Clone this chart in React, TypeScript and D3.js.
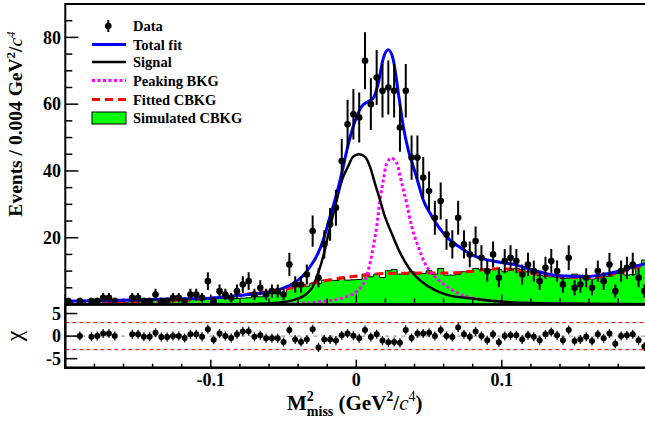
import { useMemo } from "react";
import * as d3 from "d3";

// ---- data ----
const binLo = -0.2;
const binWidth = 0.004;

// events per 0.004 bin, 100 bins from -0.2 to 0.2
const counts = [
  1, 0, 1, 0, 1, 1, 2, 2, 1, 0,
  0, 2, 2, 1, 1, 3, 1, 1, 2, 2,
  1, 3, 3, 2, 7, 1, 4, 3, 2, 4,
  6, 7, 3, 5, 3, 4, 4, 3, 12, 6,
  6, 9, 22, 8, 18, 24, 29, 43, 54, 57,
  56, 73, 60, 68, 64, 65, 64, 53, 64, 44,
  44, 38, 34, 26, 31, 21, 18, 26, 18, 15,
  19, 14, 10, 15, 8, 13, 14, 13, 9, 12,
  10, 7, 11, 13, 10, 6, 14, 5, 6, 8,
  5, 10, 7, 12, 4, 10, 11, 12, 8, 4,
];

// pulls (chi) per bin, null = not drawn
const pulls: (number | null)[] = [
  null, null, 0.0, null, -0.15, 0.0, 0.6, 0.6, 0.0, null,
  null, 0.4, 0.4, -0.15, -0.15, 0.75, -0.2, -0.2, 0.0, 0.0,
  -0.4, 0.4, 0.4, -0.15, 1.5, -0.8, 0.6, 0.0, -0.4, 0.4,
  1.0, 1.1, -0.15, 0.2, -0.5, -0.5, -0.5, -1.3, 1.35, -0.75,
  -1.3, -0.75, 1.5, -2.5, -0.75, -0.75, -1.0, 0.2, 0.6, 0.1,
  -0.5, 1.35, -0.2, 0.4, -1.0, -1.35, -1.3, -1.5, 1.35, -0.4,
  0.6, 0.6, 0.75, 0.0, 1.35, 0.0, -0.2, 1.9, 0.4, -0.15,
  1.0, 0.0, -0.9, 0.4, -1.35, 0.0, 0.2, 0.2, -0.75, 0.2,
  -0.15, -0.9, 0.4, 0.9, 0.2, -0.9, 1.35, -1.1, -0.75, -0.15,
  -1.1, 0.4, -0.5, 0.6, -1.7, 0.0, 0.2, 0.4, -0.9, -2.3,
];

// simulated combinatorial background histogram
const simCbkg = [
  0.3, 0.2, 0.4, 0.3, 0.4, 0.5, 0.4, 0.6, 0.8, 0.6,
  0.7, 0.9, 0.8, 0.7, 1.0, 1.2, 1.0, 1.1, 1.3, 1.2,
  1.6, 1.8, 1.5, 1.9, 2.0, 1.7, 1.8, 1.8, 1.9, 1.8,
  1.9, 2.0, 2.8, 2.3, 3.3, 3.5, 3.2, 3.6, 5.3, 5.5,
  5.6, 5.5, 6.3, 6.3, 7.3, 7.3, 7.2, 8.2, 7.3, 7.4,
  7.5, 9.1, 8.3, 9.1, 8.1, 10.1, 10.5, 9.1, 9.1, 9.8,
  9.1, 9.3, 10.1, 9.1, 10.8, 8.8, 8.8, 9.1, 9.8, 10.1,
  10.8, 10.5, 10.1, 10.5, 10.5, 9.8, 10.2, 10.8, 10.5, 9.8,
  9.2, 8.8, 8.5, 8.3, 8.2, 7.8, 7.9, 9.1, 8.8, 7.8,
  7.6, 7.9, 8.3, 8.5, 9.3, 9.4, 8.8, 9.0, 11.8, 13.3,
];

// fit curves
const totX = [-0.2, -0.162, -0.135, -0.1006, -0.089, -0.078, -0.0662, -0.0545, -0.0435, -0.0373, -0.0318, -0.0263, -0.022, -0.0181, -0.014, -0.01, -0.0059, -0.0021, 0.0037, 0.0082, 0.0117, 0.0151, 0.0186, 0.022, 0.0254, 0.0289, 0.0323, 0.0357, 0.0392, 0.0426, 0.046, 0.0507, 0.0564, 0.0632, 0.0724, 0.0816, 0.0907, 0.101, 0.11, 0.1216, 0.1331, 0.1446, 0.156, 0.1675, 0.179, 0.1904, 0.2];
const totY = [1.0, 1.3, 1.6, 1.9, 2.3, 2.8, 3.3, 4.3, 6.3, 8.3, 11.3, 15.3, 20.3, 26.3, 32.3, 39.3, 47.3, 53.3, 59.3, 60.8, 61.8, 66.3, 73.8, 76.3, 73.3, 63.3, 53.3, 46.3, 41.3, 36.3, 31.3, 27.3, 23.3, 19.8, 16.8, 14.5, 13.3, 12.5, 11.8, 10.3, 9.0, 8.5, 8.3, 8.8, 9.8, 11.3, 12.4];

const sigX = [-0.2, -0.08, -0.066, -0.0545, -0.0435, -0.034, -0.03, -0.0263, -0.0222, -0.018, -0.014, -0.0098, -0.0057, -0.0023, 0.0018, 0.006, 0.0094, 0.0128, 0.0163, 0.0197, 0.0243, 0.0287, 0.0335, 0.039, 0.045, 0.054, 0.063, 0.0795, 0.1, 0.133, 0.2];
const sigY = [0.0, 0.05, 0.2, 0.5, 1.3, 3.3, 5.3, 9.3, 15.3, 23.3, 30.3, 37.3, 41.3, 44.2, 45.0, 44.2, 41.3, 36.3, 31.3, 26.3, 21.3, 16.8, 12.8, 9.3, 6.8, 4.3, 2.8, 1.8, 0.8, 0.3, 0.1];

const pkX = [-0.2, -0.06, -0.041, -0.025, -0.0091, 0.0005, 0.006, 0.0094, 0.0117, 0.014, 0.0163, 0.0186, 0.0209, 0.0243, 0.0278, 0.0312, 0.0346, 0.0381, 0.0426, 0.0472, 0.0541, 0.061, 0.07, 0.0816, 0.1, 0.126, 0.168, 0.2];
const pkY = [0.0, 0.1, 0.3, 0.8, 2.0, 4.0, 7.3, 12.3, 17.3, 23.3, 31.3, 37.3, 42.3, 43.8, 42.3, 36.3, 30.3, 23.3, 17.3, 12.3, 8.3, 5.8, 3.3, 1.8, 0.8, 0.3, 0.1, 0.05];

const bkX = [-0.2, -0.162, -0.135, -0.107, -0.085, -0.073, -0.059, -0.0435, -0.023, -0.002, 0.022, 0.045, 0.068, 0.09, 0.099, 0.121, 0.145, 0.156, 0.167, 0.179, 0.19, 0.2];
const bkY = [0.5, 0.8, 1.0, 1.6, 2.6, 3.3, 4.0, 5.0, 7.0, 8.4, 9.3, 9.4, 9.5, 10.5, 10.8, 9.3, 8.3, 8.0, 8.4, 9.3, 10.8, 12.0];

const yTickLabels = [20, 40, 60, 80];
const xTickLabels = [-0.1, 0, 0.1];
const chiTickLabels = [-5, 0, 5];
const chiBand = [-3, 3];

const legendItems = ["Data", "Total fit", "Signal", "Peaking BKG", "Fitted CBKG", "Simulated CBKG"];
const legendRowY = [26, 44.5, 62, 80.5, 99.5, 118];

const FONT = "'Liberation Serif', 'Times New Roman', serif";

export default function App() {
  const W = 645;
  const H = 421;
  const L = 65.3, R = 647.3, T = 4, MID = 304.5, B = 367.7;

  const x = d3.scaleLinear().domain([-0.2, 0.2]).range([L, R]);
  const y = d3.scaleLinear().domain([0, 90]).range([MID, T]);
  const yc = d3.scaleLinear().domain([-7, 7]).range([B, MID]);

  const bins = useMemo(
    () => counts.map((n, i) => ({ i, lo: binLo + binWidth * i, c: binLo + binWidth * (i + 0.5), n, pull: pulls[i], sim: simCbkg[i] })),
    []
  );

  const curve = (xs: number[], ys: number[]) =>
    d3.line<number>().x((_, i) => x(xs[i])).y((v) => y(v)).curve(d3.curveMonotoneX)(ys) ?? "";

  const histPath = useMemo(() => {
    const pts: [number, number][] = [];
    bins.forEach((b) => {
      pts.push([b.lo, b.sim]);
      pts.push([b.lo + binWidth, b.sim]);
    });
    const area = d3
      .area<[number, number]>()
      .x((d) => x(d[0]))
      .y0(y(0))
      .y1((d) => y(d[1]));
    return area(pts) ?? "";
  }, [bins]);

  const xTicks = d3.range(-10, 11).map((k) => k * 0.02);
  const yTicks = d3.range(0, 91, 5);

  return (
    <svg width={W} height={H} style={{ position: "absolute", left: 0, top: 0, background: "#fff" }} fontFamily={FONT}>
      <defs>
        <clipPath id="top-clip">
          <rect x={L} y={T} width={R - L} height={MID - T} />
        </clipPath>
        <clipPath id="bot-clip">
          <rect x={L} y={MID} width={R - L} height={B - MID} />
        </clipPath>
      </defs>
      <rect x={0} y={0} width={W} height={H} fill="#fff" />

      {/* upper pad */}
      <g clipPath="url(#top-clip)">
        <path d={histPath} fill="#00ff00" stroke="#000" strokeWidth={1} />
        <path d={curve(bkX, bkY)} fill="none" stroke="#ff0000" strokeWidth={3} strokeDasharray="8,5" />
        <path d={curve(pkX, pkY)} fill="none" stroke="#ff00ff" strokeWidth={3} strokeDasharray="3,2.5" />
        <path d={curve(sigX, sigY)} fill="none" stroke="#000" strokeWidth={2.5} />
        <path d={curve(totX, totY)} fill="none" stroke="#0000ff" strokeWidth={3} />
        {bins
          .filter((b) => b.n > 0)
          .map((b) => {
            const e = Math.sqrt(b.n);
            return (
              <g key={b.i}>
                <line x1={x(b.c)} x2={x(b.c)} y1={y(b.n - e)} y2={y(b.n + e)} stroke="#000" strokeWidth={2} />
                <circle cx={x(b.c)} cy={y(b.n)} r={3.3} fill="#000" />
              </g>
            );
          })}
      </g>

      {/* upper axes ticks */}
      {yTicks.map((t) => (
        <line key={"yt" + t} x1={L} x2={L + (t % 20 === 0 ? 13 : 7)} y1={y(t)} y2={y(t)} stroke="#000" strokeWidth={1.5} />
      ))}
      {xTicks.map((t) => {
        const major = Math.abs(Math.round(t * 100) % 10) === 0;
        return (
          <line key={"xt" + t} x1={x(t)} x2={x(t)} y1={MID} y2={MID - (major ? 10 : 6)} stroke="#000" strokeWidth={1.5} />
        );
      })}
      {yTickLabels.map((t) => (
        <text key={"yl" + t} x={61} y={y(t) + 6.3} textAnchor="end" fontSize={18} fontWeight="bold">
          {t}
        </text>
      ))}

      {/* legend */}
      {legendItems.map((name, i) => {
        const ly = legendRowY[i];
        let sym = null;
        if (i === 0)
          sym = (
            <g>
              <line x1={108.3} x2={108.3} y1={ly - 6} y2={ly + 6} stroke="#000" strokeWidth={2} />
              <circle cx={108.3} cy={ly} r={3.3} fill="#000" />
            </g>
          );
        if (i === 1) sym = <line x1={92} x2={126} y1={ly} y2={ly} stroke="#0000ff" strokeWidth={3} />;
        if (i === 2) sym = <line x1={92} x2={126} y1={ly} y2={ly} stroke="#000" strokeWidth={2.5} />;
        if (i === 3) sym = <line x1={92} x2={126} y1={ly} y2={ly} stroke="#ff00ff" strokeWidth={3} strokeDasharray="3,2.5" />;
        if (i === 4) sym = <line x1={92} x2={126} y1={ly} y2={ly} stroke="#ff0000" strokeWidth={3} strokeDasharray="8,5" />;
        if (i === 5) sym = <rect x={92} y={ly - 6} width={34} height={12} fill="#00ff00" stroke="#000" strokeWidth={1} />;
        return (
          <g key={name}>
            {sym}
            <text x={133} y={ly + 5} fontSize={14.5} fontWeight="bold">
              {name}
            </text>
          </g>
        );
      })}

      {/* lower pad */}
      <g clipPath="url(#bot-clip)">
        <line x1={L} x2={R} y1={yc(0)} y2={yc(0)} stroke="#888" strokeWidth={1} strokeDasharray="4,4" />
        {chiBand.map((v) => (
          <line key={"band" + v} x1={L} x2={R} y1={yc(v)} y2={yc(v)} stroke="#ff0000" strokeWidth={1} strokeDasharray="4,3" />
        ))}
        {bins
          .filter((b) => b.pull !== null)
          .map((b) => (
            <g key={"p" + b.i}>
              <line x1={x(b.c)} x2={x(b.c)} y1={yc((b.pull as number) - 1)} y2={yc((b.pull as number) + 1)} stroke="#222" strokeWidth={1.4} />
              <circle cx={x(b.c)} cy={yc(b.pull as number)} r={3} fill="#000" />
            </g>
          ))}
      </g>
      {chiTickLabels.map((t) => (
        <g key={"cl" + t}>
          <line x1={L} x2={L + 12} y1={yc(t)} y2={yc(t)} stroke="#000" strokeWidth={1.5} />
          <text x={61} y={yc(t) + 6.3} textAnchor="end" fontSize={18} fontWeight="bold">
            {t}
          </text>
        </g>
      ))}
      {xTicks.map((t) => {
        const major = Math.abs(Math.round(t * 100) % 10) === 0;
        return <line key={"bt" + t} x1={x(t)} x2={x(t)} y1={B} y2={B - (major ? 8 : 4)} stroke="#000" strokeWidth={1.5} />;
      })}
      {xTickLabels.map((t) => (
        <text key={"xl" + t} x={x(t)} y={386} textAnchor="middle" fontSize={18} fontWeight="bold">
          {t === 0 ? "0" : d3.format(".1f")(t).replace("−", "-")}
        </text>
      ))}

      {/* frames */}
      <rect x={L} y={T} width={R - L + 5} height={MID - T} fill="none" stroke="#000" strokeWidth={2} />
      <rect x={L} y={MID} width={R - L + 5} height={B - MID} fill="none" stroke="#000" strokeWidth={2.5} />

      {/* axis titles */}
      <text transform={`translate(22,124) rotate(-90)`} textAnchor="middle" fontSize={19.5} fontWeight="bold">
        Events / 0.004 GeV
        <tspan fontSize={13} dy={-7}>2</tspan>
        <tspan dy={7}>/</tspan>
        <tspan fontStyle="italic" fontWeight="normal">c</tspan>
        <tspan fontSize={13} dy={-7} fontStyle="italic" fontWeight="normal">4</tspan>
      </text>
      <text transform={`translate(22,336) rotate(-90)`} textAnchor="middle" fontSize={24}>
        χ
      </text>
      <text x={287} y={410} fontSize={21} fontWeight="bold">
        M
        <tspan fontSize={14} dy={-9}>2</tspan>
        <tspan fontSize={14} dx={-7} dy={15}>miss</tspan>
        <tspan dy={-6}> (GeV</tspan>
        <tspan fontSize={14} dy={-9}>2</tspan>
        <tspan dy={9}>/</tspan>
        <tspan fontStyle="italic" fontWeight="normal">c</tspan>
        <tspan fontSize={14} dy={-9} fontWeight="normal">4</tspan>
        <tspan dy={9}>)</tspan>
      </text>
    </svg>
  );
}
